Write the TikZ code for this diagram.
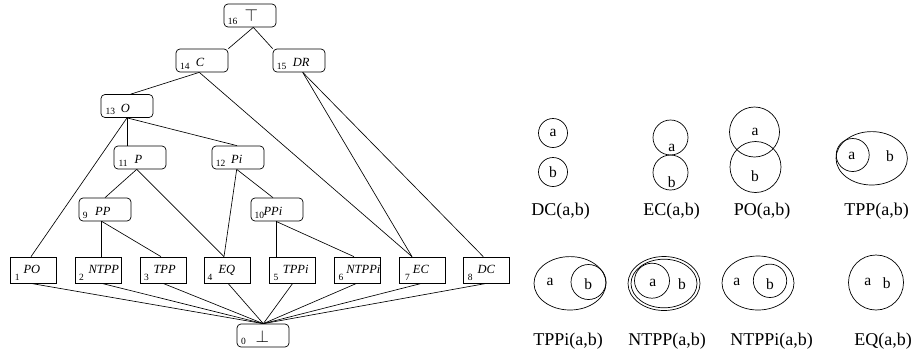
\documentclass[tikz,border=0pt]{standalone}
\usepackage{fontspec}
\setmainfont{Liberation Serif}
\begin{document}
\begin{tikzpicture}[x=1pt,y=-1pt,
  rbox/.style={draw, rounded corners=4pt, minimum width=52pt, minimum height=23pt, inner sep=0pt, line width=0.7pt},
  sbox/.style={draw, minimum width=46pt, minimum height=26pt, inner sep=0pt, line width=0.7pt},
  numtxt/.style={anchor=base west, inner sep=0pt, font=\fontsize{9.5}{9.5}\selectfont},
  labtxt/.style={anchor=base west, inner sep=0pt, font=\fontsize{12.5}{12.5}\selectfont\itshape},
  symtxt/.style={anchor=base west, inner sep=0pt, font=\fontsize{16}{16}\selectfont},
  conn/.style={line width=0.65pt},
  reg/.style={line width=0.7pt},
  lett/.style={inner sep=0pt, font=\fontsize{15.5}{15.5}\selectfont},
  captxt/.style={anchor=base, inner sep=0pt, font=\fontsize{18}{18}\selectfont}]
\useasboundingbox (0,0) rectangle (915,354);

% rounded boxes
\node[rbox] (n16) at (250,15.5) {};
\node[rbox] (n14) at (202,60.5) {};
\node[rbox] (n15) at (299,60.5) {};
\node[rbox] (n13) at (127,106) {};
\node[rbox] (n11) at (140,157.5) {};
\node[rbox] (n12) at (238,157.5) {};
\node[rbox] (n9)  at (105,209.5) {};
\node[rbox] (n10) at (277,209.5) {};
\node[rbox] (n0)  at (263,335.5) {};
% square boxes
\node[sbox] (n1) at (33,270) {};
\node[sbox] (n2) at (98,270) {};
\node[sbox] (n3) at (163,270) {};
\node[sbox] (n4) at (227.5,270) {};
\node[sbox] (n5) at (292,270) {};
\node[sbox] (n6) at (357,270) {};
\node[sbox] (n7) at (422,270) {};
\node[sbox] (n8) at (486.5,270) {};

% texts in rounded boxes
\node[numtxt] (t16n) at (227.7,24) {16};
\node[symtxt] (t16l) at (244.3,21) {$\top$};
\node[numtxt] (t14n) at (180,69) {14};
\node[labtxt] (t14l) at (195.7,66.5) {C};
\node[numtxt] (t15n) at (276.7,69) {15};
\node[labtxt] (t15l) at (292.7,66.5) {DR};
\node[numtxt] (t13n) at (105.3,114.5) {13};
\node[labtxt] (t13l) at (120.7,112) {O};
\node[numtxt] (t11n) at (118.3,166) {11};
\node[labtxt] (t11l) at (134.3,163.5) {P};
\node[numtxt] (t12n) at (215.7,166) {12};
\node[labtxt] (t12l) at (231,163.5) {Pi};
\node[numtxt] (t9n) at (82.7,218) {9};
\node[labtxt] (t9l) at (95,215.5) {PP};
\node[numtxt] (t10n) at (254.3,218) {10};
\node[labtxt] (t10l) at (263.3,215.5) {PPi};
\node[numtxt] (t0n) at (241,344) {0};
\node[symtxt] (t0l) at (255.5,342.5) {$\bot$};

% texts in square boxes
\node[numtxt] (t1n) at (14.7,280) {1};
\node[labtxt] (t1l) at (23.3,273) {PO};
\node[numtxt] (t2n) at (79,280) {2};
\node[labtxt] (t2l) at (88.3,273) {NTPP};
\node[numtxt] (t3n) at (144,280) {3};
\node[labtxt] (t3l) at (153.3,273) {TPP};
\node[numtxt] (t4n) at (207.3,280) {4};
\node[labtxt] (t4l) at (218.3,273) {EQ};
\node[numtxt] (t5n) at (273.3,280) {5};
\node[labtxt] (t5l) at (282.7,273) {TPPi};
\node[numtxt] (t6n) at (338.3,280) {6};
\node[labtxt] (t6l) at (346.2,273) {NTPPi};
\node[numtxt] (t7n) at (405,280) {7};
\node[labtxt] (t7l) at (412.7,273) {EC};
\node[numtxt] (t8n) at (467.7,280) {8};
\node[labtxt] (t8l) at (477.3,273) {DC};

% connectors
\draw[conn] ([xshift=3.3pt]n16.south) -- (n14.north east);
\draw[conn] ([xshift=3.3pt]n16.south) -- (n15.north west);
\draw[conn] ([xshift=-2.7pt]n14.south) -- ([xshift=3.7pt]n13.north);
\draw[conn] ([xshift=-2.7pt]n14.south) -- ([xshift=-10pt]n7.north);
\draw[conn] ([xshift=3.7pt]n15.south) -- ([xshift=-10pt]n7.north);
\draw[conn] ([xshift=3.7pt]n15.south) -- ([xshift=-3.2pt]n8.north);
\draw[conn] (n13.south) -- ([xshift=-13pt]n11.north);
\draw[conn] (n13.south) -- ([xshift=-1pt]n12.north);
\draw[conn] (n13.south) -- ([xshift=-2pt]n1.north);
\draw[conn] ([xshift=-3.3pt]n11.south) -- (n9.north);
\draw[conn] ([xshift=-3.3pt]n11.south) -- ([xshift=-3.5pt]n4.north);
\draw[conn] ([xshift=-1.3pt]n12.south) -- ([xshift=-3.5pt]n4.north);
\draw[conn] ([xshift=-1.3pt]n12.south) -- ([xshift=-4pt]n10.north);
\draw[conn] ([xshift=-3.3pt]n9.south) -- ([xshift=3.7pt]n2.north);
\draw[conn] ([xshift=-3.3pt]n9.south) -- ([xshift=-2pt]n3.north);
\draw[conn] ([xshift=-1pt]n10.south) -- ([xshift=-16pt]n5.north);
\draw[conn] ([xshift=-1pt]n10.south) -- ([xshift=-3pt]n6.north);
\foreach \n/\d in {1/-2.3, 2/3.7, 3/0, 4/0.5, 5/0.7, 6/-0.3, 7/-0.3, 8/0.2}
  \draw[conn] ([xshift=\d pt]n\n.south) -- ([xshift=0.3pt]n0.north);

% region diagrams
% DC
\draw[reg] (553,133) circle[radius=14.5pt];
\draw[reg] (553,172) circle[radius=14.5pt];
\node[lett] (dca) at (553,133) {a};
\node[lett] (dcb) at (553,172) {b};
\node[captxt] (dccap) at (560.5,215) {DC(a,b)};
% EC
\draw[reg] (670.5,137.5) circle[radius=17.5pt];
\draw[reg] (670.5,172.5) circle[radius=17.5pt];
\node[lett] (eca) at (671.7,147.5) {a};
\node[lett] (ecb) at (671.7,182.5) {b};
\node[captxt] (eccap) at (671.7,215) {EC(a,b)};
% PO
\draw[reg] (754.5,132) circle[radius=25pt];
\draw[reg] (755.5,167) circle[radius=25.5pt];
\node[lett] (poa) at (755,132) {a};
\node[lett] (pob) at (755,176) {b};
\node[captxt] (pocap) at (762,215) {PO(a,b)};
% TPP
\draw[reg] (871.7,158.3) ellipse[x radius=35.7pt, y radius=26.7pt];
\draw[reg] (852.7,155) circle[radius=16.5pt];
\node[lett] (tppa) at (851.7,156) {a};
\node[lett] (tppb) at (890,156.5) {b};
\node[captxt] (tppcap) at (876.7,215) {TPP(a,b)};
% TPPi
\draw[reg] (570,283.3) ellipse[x radius=36pt, y radius=26.7pt];
\draw[reg] (588.5,282) circle[radius=17.5pt];
\node[lett] (tppia) at (550,281.7) {a};
\node[lett] (tppib) at (588.3,284.5) {b};
\node[captxt] (tppicap) at (568,345) {TPPi(a,b)};
% NTPP
\draw[reg] (664,283.5) ellipse[x radius=36pt, y radius=27pt];
\draw[reg] (664,283.5) ellipse[x radius=33pt, y radius=24.3pt];
\draw[reg] (652,280.7) circle[radius=17.5pt];
\node[lett] (ntppa) at (652.7,283) {a};
\node[lett] (ntppb) at (682,284) {b};
\node[captxt] (ntppcap) at (667,345) {NTPP(a,b)};
% NTPPi
\draw[reg] (758,283) ellipse[x radius=36pt, y radius=27pt];
\draw[reg] (770,280.8) circle[radius=16.7pt];
\node[lett] (ntppia) at (736.7,281.7) {a};
\node[lett] (ntppib) at (770,284) {b};
\node[captxt] (ntppicap) at (771.5,345) {NTPPi(a,b)};
% EQ
\draw[reg] (876,282.5) circle[radius=27.5pt];
\node[lett] (eqa) at (867.7,281.7) {a};
\node[lett] (eqb) at (886.7,283.3) {b};
\node[captxt] (eqcap) at (883,345) {EQ(a,b)};
\end{tikzpicture}
\end{document}
